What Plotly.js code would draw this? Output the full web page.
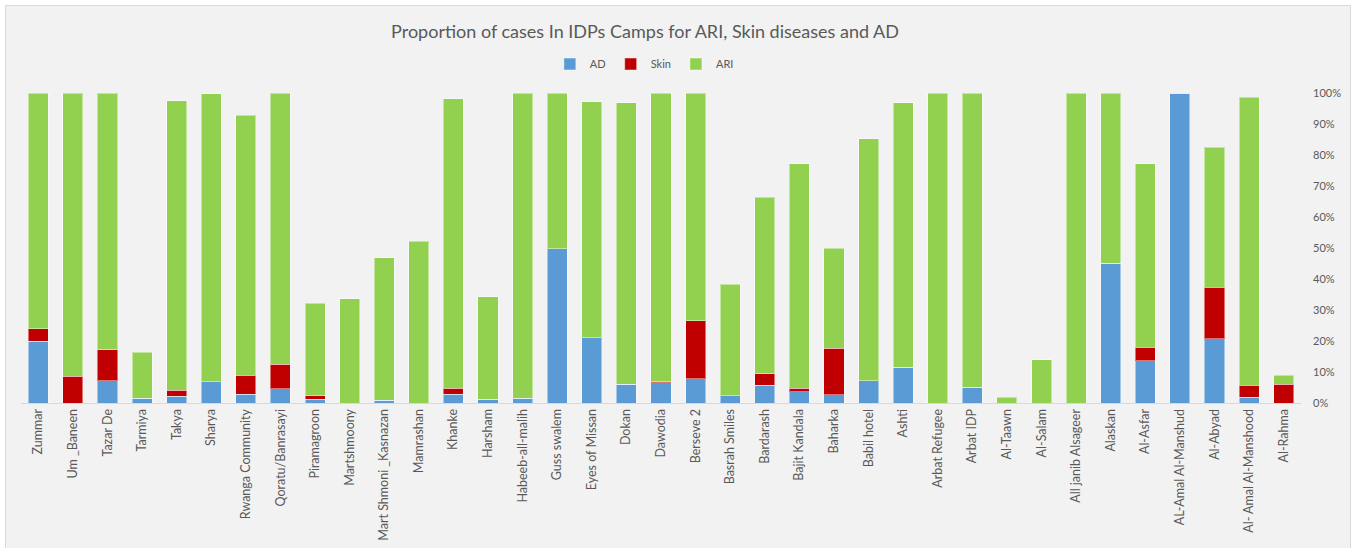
<!DOCTYPE html>
<html>
<head>
<meta charset="utf-8">
<script src="https://cdn.plot.ly/plotly-3.0.1.min.js"></script>
<style>
  html, body { margin: 0; padding: 0; background: #ffffff; overflow: hidden; }
  #frame { position: absolute; left: 5px; top: 5px; width: 1344px; height: 570px;
           border-left: 1px solid #d9d9d9; border-top: 1px solid #d9d9d9; border-right: 1px solid #d9d9d9;
           background: #f2f2f2; }
  #chart { width: 1344px; height: 560px; }
</style>
</head>
<body>
<div id="frame"><div id="chart"></div></div>
<script>
const camps = ["Zummar","Um _Baneen","Tazar De","Tarmiya","Takya","Sharya","Rwanga Community","Qoratu/Banrasayi","Piramagroon","Martshmoony","Mart Shmoni _Kasnazan","Mamrashan","Khanke","Harsham","Habeeb-all-malih","Guss swalem","Eyes of Missan","Dokan","Dawodia","Berseve 2","Basrah Smiles","Bardarash","Bajit Kandala","Baharka","Babil hotel","Ashti","Arbat Refugee","Arbat IDP","Al-Taawn","Al-Salam","All janib Alsageer","Alaskan","Al-Asfar","AL-Amal Al-Manshud","Al-Abyad","Al- Amal Al-Manshood","Al-Rahma"];

const adShare   = [0.200,0.000,0.071,0.015,0.022,0.068,0.029,0.046,0.012,0.000,0.009,0.000,0.029,0.012,0.015,0.497,0.211,0.061,0.065,0.079,0.023,0.058,0.036,0.026,0.071,0.115,0.000,0.051,0.000,0.000,0.000,0.451,0.136,1.000,0.208,0.018,0.000];
const skinShare = [0.040,0.086,0.101,0.000,0.019,0.000,0.060,0.079,0.011,0.000,0.000,0.000,0.018,0.000,0.000,0.000,0.000,0.000,0.004,0.186,0.000,0.036,0.011,0.150,0.000,0.000,0.000,0.000,0.000,0.000,0.000,0.000,0.044,0.000,0.165,0.040,0.061];
const ariShare  = [0.760,0.914,0.828,0.149,0.934,0.929,0.840,0.875,0.299,0.336,0.459,0.522,0.935,0.331,0.985,0.503,0.760,0.907,0.931,0.735,0.360,0.570,0.724,0.324,0.782,0.853,1.000,0.949,0.018,0.140,1.000,0.549,0.591,0.000,0.452,0.928,0.029];

const yTickVals = [0,0.1,0.2,0.3,0.4,0.5,0.6,0.7,0.8,0.9,1.0];
const yTickText = ["0%","10%","20%","30%","40%","50%","60%","70%","80%","90%","100%"];

const edge = {color: "rgba(255,255,255,0.45)", width: 1};
const traces = [
  {type: "bar", name: "AD", x: camps, y: adShare, marker: {color: "#5b9bd5", line: edge}},
  {type: "bar", name: "Skin", x: camps, y: skinShare, marker: {color: "#c00000", line: edge}},
  {type: "bar", name: "ARI", x: camps, y: ariShare, marker: {color: "#92d050", line: edge}}
];

const H = 560;
const font = "Lato, 'Open Sans', sans-serif";
const layout = {
  width: 1344, height: H,
  barmode: "stack",
  bargap: 0.42,
  paper_bgcolor: "#f2f2f2",
  plot_bgcolor: "#f2f2f2",
  margin: {l: 15, r: 49, t: 87, b: H - 397},
  font: {family: font, color: "#595959", size: 11},
  title: {text: "Proportion of cases In IDPs Camps for ARI, Skin diseases and AD",
          font: {family: font, size: 18, color: "#595959"},
          x: 639/1344, xanchor: "center", y: 1 - 26/H, yanchor: "middle", xref: "container", yref: "container"},
  legend: {orientation: "h", x: 0.487, xanchor: "center", y: 1 + 29/310, yanchor: "middle",
           traceorder: "normal", itemwidth: 30, font: {size: 11, color: "#595959"}, bgcolor: "rgba(0,0,0,0)"},
  xaxis: {type: "category", tickangle: -90, showline: true, linecolor: "#d9d9d9", linewidth: 1,
          ticks: "", showgrid: false, tickfont: {size: 12.5, color: "#595959"}, fixedrange: true},
  yaxis: {side: "right", range: [0, 1.0], tickvals: yTickVals, ticktext: yTickText,
          showgrid: false, zeroline: false, showline: false, ticks: "",
          tickfont: {size: 11, color: "#595959"}, ticklabelstandoff: 11, fixedrange: true}
};

Plotly.newPlot("chart", traces, layout, {displayModeBar: false, staticPlot: true});
</script>
</body>
</html>
